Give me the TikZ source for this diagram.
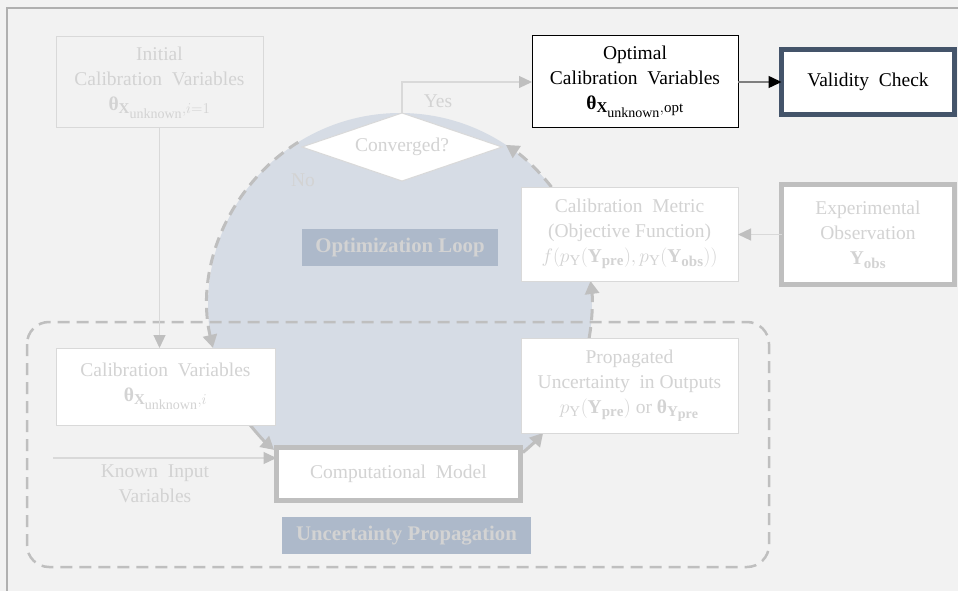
\documentclass[tikz,border=0pt]{standalone}
\usepackage{fix-cm}
\usepackage{amsmath}
\usepackage{fontspec}
\setmainfont{Liberation Serif}
\newfontfamily\tnr{Liberation Serif}
\DeclareMathSizes{19.5}{19.5}{15}{14}
\usetikzlibrary{arrows.meta}
\definecolor{bgc}{HTML}{F2F2F2}
\definecolor{framec}{HTML}{B0B0B0}
\definecolor{loopc}{HTML}{D6DCE5}
\definecolor{labc}{HTML}{ADB9CA}
\definecolor{faint}{HTML}{D3D3D3}
\definecolor{faintline}{HTML}{D9D9D9}
\definecolor{midgray}{HTML}{BFBFBF}
\definecolor{navyc}{HTML}{44546A}
\definecolor{darkline}{HTML}{7F7F7F}
\newcommand{\bth}{\text{\bfseries θ}}
\tikzset{
  base/.style={font=\tnr\fontsize{19.5}{25}\selectfont, align=center, inner sep=0pt, outer sep=0pt},
  fbox/.style={base, draw=faintline, line width=1pt, fill=white, text=faint},
  thickbox/.style={base, draw=midgray, line width=5pt, fill=white, text=faint},
  lab/.style={base, fill=labc, text=faint, font=\tnr\fontsize{20.8}{25}\selectfont\bfseries},
  ftext/.style={base, text=faint},
  arr/.style={draw=faintline, line width=1.2pt, -{Triangle[length=13pt,width=12pt,color=midgray]}},
  looparr/.style={draw=midgray, line width=3pt, dash pattern=on 11pt off 7pt, -{Triangle[length=13pt,width=14pt]}},
  loopsolid/.style={draw=midgray, line width=3pt, -{Triangle[length=13pt,width=14pt]}}
}
\begin{document}
\begin{tikzpicture}[x=1pt,y=-1pt]
\useasboundingbox (0,0) rectangle (958,591);
\fill[bgc] (0,0) rectangle (958,591);
\draw[framec, line width=1.5pt] (7,591) -- (7,8) -- (958,8);
% optimization loop disc
\coordinate (c) at (400,305);
\fill[loopc] (c) circle[radius=192];
% uncertainty propagation group
\draw[midgray, line width=2.5pt, dash pattern=on 12pt off 7pt, rounded corners=22pt] (27,322) rectangle (769,567);
% loop arcs
\draw[looparr] (c) ++(-122:192) arc[start angle=-122, end angle=-192.9, radius=192];
\draw[loopsolid] (c) ++(-218.7:192) arc[start angle=-218.7, end angle=-229, radius=192];
\draw[loopsolid] (c) ++(50.2:192) arc[start angle=50.2, end angle=41.8, radius=192];
\draw[looparr] (c) ++(9.9:192) arc[start angle=9.9, end angle=-7.2, radius=192];
\draw[looparr] (c) ++(-37.9:192) arc[start angle=-37.9, end angle=-56.5, radius=192];
% decision diamond
\coordinate (dtop) at (402,113);
\coordinate (dright) at (502,147);
\coordinate (dbot) at (402,181);
\coordinate (dleft) at (302,147);
\draw[faintline, line width=1pt, fill=white] (dtop) -- (dright) -- (dbot) -- (dleft) -- cycle;
\node[ftext] (dia) at (402,147) {Converged?};
% nodes
\node[fbox, fill=bgc, minimum width=207pt, minimum height=91pt] (init) at (159.5,82.5)
  {Initial\\Calibration\ \ Variables\\$\bth_{\mathbf{X}_{\mathrm{unknown}},i=1}$};
\node[fbox, minimum width=219pt, minimum height=77pt] (calvar) at (165.5,386.5)
  {Calibration\ \ Variables\\$\bth_{\mathbf{X}_{\mathrm{unknown}},i}$};
\node[thickbox, minimum width=244pt, minimum height=53pt] (comp) at (398.5,474) {Computational\ \ Model};
\node[lab, minimum width=249pt, minimum height=37pt] (uplab) at (406.5,535.5) {Uncertainty Propagation};
\node[lab, minimum width=196pt, minimum height=37pt] (optlab) at (400,247.5) {Optimization Loop};
\node[fbox, minimum width=217pt, minimum height=95pt] (prop) at (629.5,385.5)
  {Propagated\\Uncertainty\ \ in Outputs\\$p_{\mathrm{Y}}(\mathbf{Y}_{\mathbf{pre}})$ or $\bth_{\mathbf{Y}_{\mathbf{pre}}}$};
\node[fbox, minimum width=217pt, minimum height=94pt] (metric) at (629.5,234)
  {Calibration\ \ Metric\\(Objective Function)\\$f(p_{\mathrm{Y}}(\mathbf{Y}_{\mathbf{pre}}),p_{\mathrm{Y}}(\mathbf{Y}_{\mathbf{obs}}))$};
\node[thickbox, minimum width=173pt, minimum height=100pt] (exp) at (868,234.5)
  {Experimental\\Observation\\$\mathbf{Y}_{\mathbf{obs}}$};
\node[base, draw=black, line width=1pt, fill=white, text=black, minimum width=206pt, minimum height=92pt] (opt) at (635,82)
  {Optimal\\Calibration\ \ Variables\\$\bth_{\mathbf{X}_{\mathrm{unknown}},\mathrm{opt}}$};
\node[base, draw=navyc, line width=5pt, fill=white, text=black, minimum width=173pt, minimum height=65pt] (valid) at (868,82)
  {Validity\ \ Check};
\node[ftext] (yes) at (438,101) {Yes};
\node[ftext] (no) at (303,180) {No};
\node[ftext] (kinlab) at (155,484) {Known\ \ Input\\Variables};
% connectors
\coordinate (kin) at (53,458);
\draw[arr] (kin) -- (kin -| comp.west);
\draw[arr] (init.south) -- (init.south |- calvar.north);
\draw[arr] (exp.west) -- (exp.west -| metric.east);
\draw[arr] (dtop) |- (opt.west);
\draw[darkline, line width=1.5pt, -{Triangle[length=13pt,width=12pt,color=black]}] (opt.east) -- (valid.west);
\end{tikzpicture}
\end{document}
